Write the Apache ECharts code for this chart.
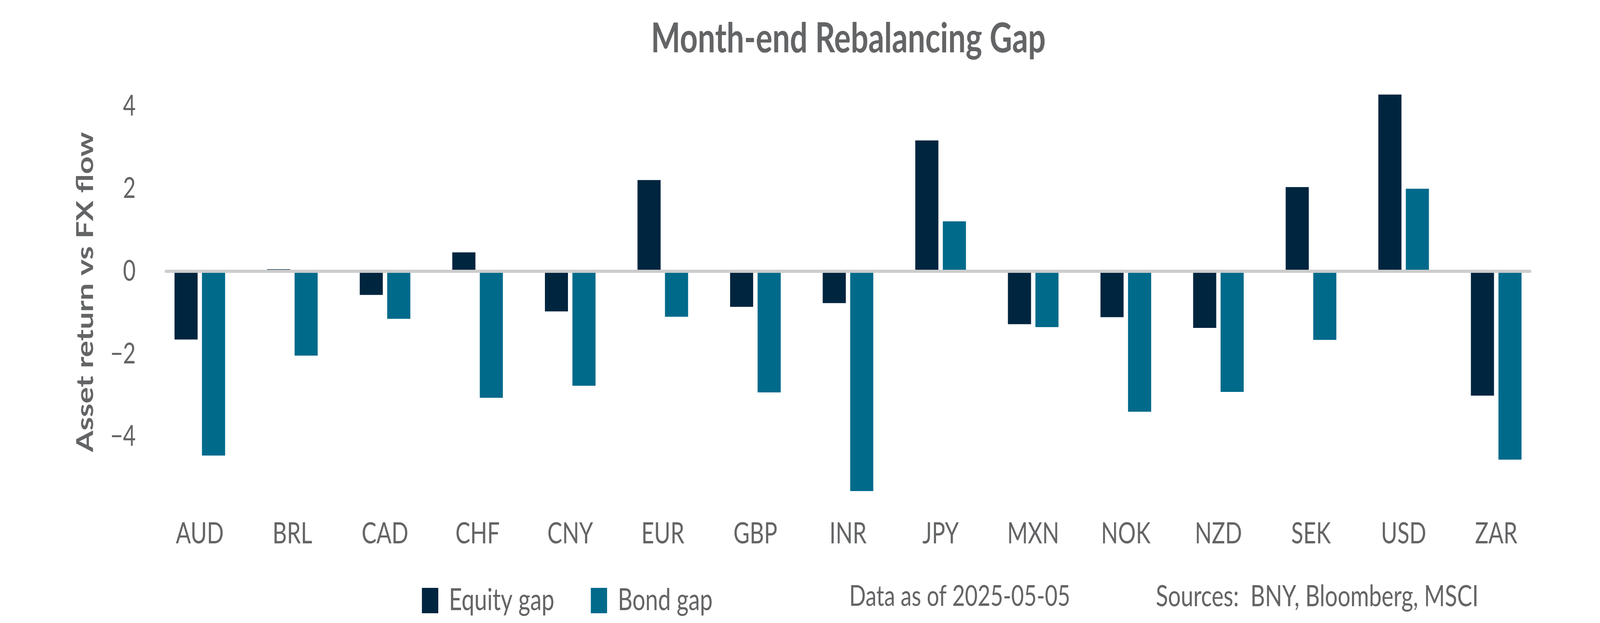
<!DOCTYPE html>
<html>
<head>
<meta charset="utf-8">
<script src="https://cdn.jsdelivr.net/npm/echarts@6/dist/echarts.min.js"></script>
<style>
html,body{margin:0;padding:0;background:#ffffff;overflow:hidden;}
#chart{position:absolute;left:0;top:0;width:5400px;height:1596px;transform-origin:0 0;}
</style>
</head>
<body>
<div id="chart"></div>
<script>
const categories = ['AUD','BRL','CAD','CHF','CNY','EUR','GBP','INR','JPY','MXN','NOK','NZD','SEK','USD','ZAR'];
const equityGap = [-1.65, 0.05, -0.57, 0.46, -0.97, 2.21, -0.86, -0.77, 3.17, -1.28, -1.11, -1.37, 2.04, 4.28, -3.01];
const bondGap = [-4.46, -2.04, -1.15, -3.06, -2.77, -1.10, -2.93, -5.32, 1.21, -1.35, -3.40, -2.92, -1.66, 2.00, -4.56];
const yTicks = { min: -6, max: 5, interval: 2 };

const GRAY = '#636466';
const FONT = 'Lato';

// The chart is drawn at its design size (5400 x 1596) and fitted to the real window.
const W = 5400, H = 1596;
const el = document.getElementById('chart');
const sx = (window.innerWidth || W) / W, sy = (window.innerHeight || H) / H;
el.style.transform = 'scale(' + sx + ',' + sy + ')';

const chart = echarts.init(el, null, { renderer: 'canvas', width: W, height: H });
chart.setOption({
  animation: false,
  backgroundColor: '#ffffff',
  textStyle: { fontFamily: FONT },
  title: [
    {
      text: 'Month-end Rebalancing Gap',
      left: 2858, top: 43, textAlign: 'center',
      textStyle: { fontFamily: FONT, fontSize: 105, fontWeight: 'bold', color: GRAY, lineHeight: 105 }
    },
    {
      text: 'Data as of 2025-05-05',
      left: 3234, top: 1486, textAlign: 'center',
      textStyle: { fontFamily: FONT, fontSize: 74, fontWeight: 'normal', color: GRAY, lineHeight: 74 }
    },
    {
      text: 'Sources:  BNY, Bloomberg, MSCI',
      left: 3896, top: 1485, textAlign: 'left',
      textStyle: { fontFamily: FONT, fontSize: 76, fontWeight: 'normal', color: GRAY, lineHeight: 76 }
    }
  ],
  legend: [
    {
      data: ['Equity gap'], left: 1419, top: 1495, icon: 'rect',
      itemWidth: 55, itemHeight: 65,
      textStyle: { fontFamily: FONT, fontSize: 77, color: GRAY, lineHeight: 65, padding: [0, 0, 0, 31] }
    },
    {
      data: ['Bond gap'], left: 1989, top: 1495, icon: 'rect',
      itemWidth: 55, itemHeight: 65,
      textStyle: { fontFamily: FONT, fontSize: 77, color: GRAY, lineHeight: 65, padding: [0, 0, 0, 31] }
    }
  ],
  grid: [
    { left: 518, right: 194, top: 166, bottom: 266 },
    { left: 560, right: 236, top: 166, bottom: 266 }
  ],
  xAxis: [
    {
      type: 'category', gridIndex: 0, data: categories, position: 'bottom',
      axisLine: { show: false, onZero: false },
      axisTick: { show: false },
      splitLine: { show: false },
      axisLabel: { fontFamily: FONT, fontSize: 75, color: GRAY, margin: 0, lineHeight: 75, interval: 0 }
    },
    {
      type: 'category', gridIndex: 1, data: categories, z: 10,
      axisLine: { show: true, onZero: true, lineStyle: { color: '#cccccc', width: 8 } },
      axisTick: { show: false }, axisLabel: { show: false }, splitLine: { show: false }
    }
  ],
  yAxis: [
    {
      type: 'value', gridIndex: 0,
      min: yTicks.min, max: yTicks.max, interval: yTicks.interval,
      name: 'Asset return vs FX flow', nameLocation: 'middle', nameGap: 190,
      nameTextStyle: { fontFamily: FONT, fontSize: 79, fontWeight: 'bold', color: GRAY, lineHeight: 79 },
      axisLine: { show: false }, axisTick: { show: false }, splitLine: { show: false },
      axisLabel: {
        fontFamily: FONT, fontSize: 74, color: GRAY, margin: 60,
        showMinLabel: false, showMaxLabel: false,
        formatter: v => String(v).replace('-', '\u2212')
      }
    },
    {
      type: 'value', gridIndex: 1, min: yTicks.min, max: yTicks.max, interval: yTicks.interval, show: false
    }
  ],
  series: [
    {
      name: 'Equity gap', type: 'bar', xAxisIndex: 0, yAxisIndex: 0,
      data: equityGap, barWidth: 78, barGap: '19%',
      itemStyle: { color: '#00253f' }
    },
    {
      name: 'Bond gap', type: 'bar', xAxisIndex: 0, yAxisIndex: 0,
      data: bondGap, barWidth: 78, barGap: '19%',
      itemStyle: { color: '#006a8b' }
    }
  ]
});
</script>
</body>
</html>
